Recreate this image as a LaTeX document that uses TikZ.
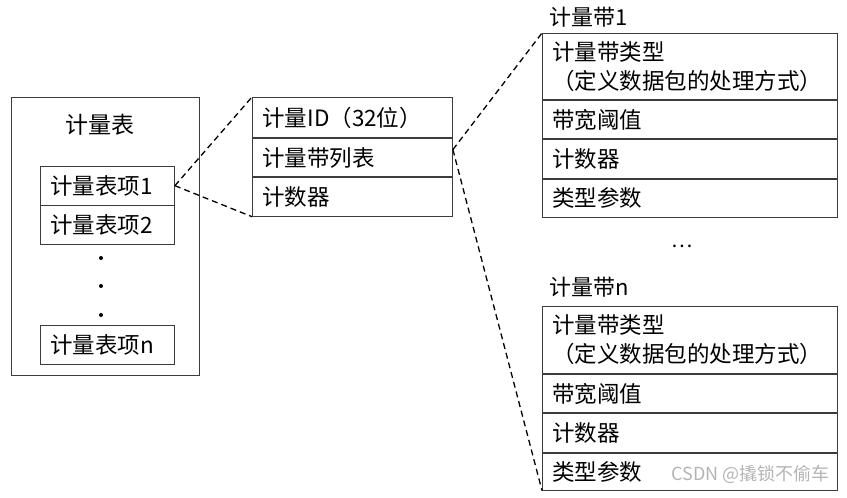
\documentclass[tikz,border=0pt]{standalone}
\usepackage{fontspec}
\setmainfont{Noto Sans CJK SC}
\usetikzlibrary{positioning}
\definecolor{boxline}{HTML}{3C3C3C}
\definecolor{markgray}{HTML}{B4B4B4}
\tikzset{
  cell/.style={draw=boxline, line width=0.9pt, inner xsep=10pt, inner ysep=0pt,
    align=left, text width=#1, minimum height=38.5pt,
    font=\fontsize{22.5}{29}\selectfont},
  link/.style={line width=1.3pt, dash pattern=on 6pt off 4pt},
}
\begin{document}
\begin{tikzpicture}[x=1pt,y=-1pt]
  \useasboundingbox (0,0) rectangle (847,498);

  % ── meter table ──
  \node[draw=boxline, line width=0.9pt, anchor=north west,
    minimum width=188pt, minimum height=278pt] (meter) at (11,97) {};
  \node[font=\fontsize{23}{26}\selectfont] (meterTitle) at (100,125) {计量表};
  \node[cell=114pt, anchor=north west] (item1) at (40,166) {计量表项1};
  \node[cell=114pt, below=0pt of item1] (item2) {计量表项2};
  \foreach \y in {258,286,315}
    \fill (101,\y) circle (2pt);
  \node[cell=114pt, anchor=north west] (itemn) at (40,325) {计量表项n};

  % ── meter entry ──
  \node[cell=180pt, anchor=north west, minimum height=40pt] (meterId) at (252,97) {计量ID（32位）};
  \node[cell=180pt, below=0pt of meterId] (bandList) {计量带列表};
  \node[cell=180pt, below=0pt of bandList] (meterCnt) {计数器};

  % ── band 1 ──
  \node[anchor=west, font=\fontsize{22}{25}\selectfont] (band1) at (546,17) {计量带1};
  \node[cell=275pt, anchor=north west, minimum height=66pt] (b1Type) at (542,33)
    {计量带类型\\（定义数据包的处理方式）};
  \node[cell=275pt, below=0pt of b1Type] (b1Rate) {带宽阈值};
  \node[cell=275pt, below=0pt of b1Rate] (b1Cnt) {计数器};
  \node[cell=275pt, below=0pt of b1Cnt] (b1Par) {类型参数};

  \node[font=\fontsize{20}{22}\selectfont] (more) at (682,246) {…};

  % ── band n ──
  \node[anchor=west, font=\fontsize{22}{25}\selectfont] (bandn) at (546,287) {计量带n};
  \node[cell=275pt, anchor=north west, minimum height=67pt] (bnType) at (542,306)
    {计量带类型\\（定义数据包的处理方式）};
  \node[cell=275pt, below=0pt of bnType] (bnRate) {带宽阈值};
  \node[cell=275pt, below=0pt of bnRate] (bnCnt) {计数器};
  \node[cell=275pt, below=0pt of bnCnt, minimum height=37pt] (bnPar) {类型参数};

  % ── zoom links ──
  \draw[link] (item1.east) -- (meterId.north west);
  \draw[link] (item1.east) -- (meterCnt.south west);
  \draw[link] ([yshift=8pt]bandList.east) -- (b1Type.north west);
  \draw[link] ([yshift=8pt]bandList.east) -- (bnPar.south west);

  \node[anchor=east, text=markgray, font=\fontsize{18}{20}\selectfont] (mark) at (833,474)
    {CSDN @撬锁不偷车};
\end{tikzpicture}
\end{document}
